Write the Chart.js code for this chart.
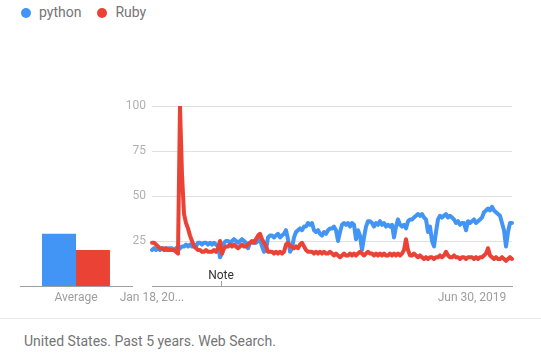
<!DOCTYPE html>
<html><head><meta charset="utf-8">
<script src="https://cdn.jsdelivr.net/npm/chart.js@4/dist/chart.umd.min.js"></script>
<style>
html,body{margin:0;padding:0;background:#fff;}
body{width:541px;height:360px;position:relative;overflow:hidden;font-family:Roboto,"Noto Sans",Arial,sans-serif;}
#legend{position:absolute;left:21px;top:4px;font-size:14px;color:#757575;white-space:nowrap;line-height:17px;}
#legend span.item{display:inline-block;margin-right:16px;}
#legend i{display:inline-block;width:10px;height:10px;border-radius:50%;vertical-align:-1px;margin-right:8px;}
#lineWrap{position:absolute;left:100px;top:80px;width:441px;height:240px;}
#barWrap{position:absolute;left:0px;top:80px;width:150px;height:240px;}
#sep{position:absolute;left:0;top:318px;width:541px;height:1px;background:#ececec;}
#footer{position:absolute;left:24px;top:333px;font-size:14px;color:#757575;line-height:16px;white-space:nowrap;}
</style>
</head><body>
<div id="legend"></div>
<div id="barWrap"><canvas id="bar"></canvas></div>
<div id="lineWrap"><canvas id="line"></canvas></div>
<div id="sep"></div>
<div id="footer">United States. Past 5 years. Web Search.</div>
<script>
const seriesNames = ['python', 'Ruby'];
const seriesColors = ['rgb(66,149,244)', 'rgb(234,67,53)'];

const python = [
20,21,20,21,20,21,21,20,21,21,
21,20,21,20,21,22,22,23,22,23,
22,23,22,24,24,23,24,24,23,24,
23,24,23,22,16,18,24,25,25,24,
25,26,25,24,25,26,25,24,21,24,
24,25,24,25,26,22,19,20,27,28,
28,27,28,29,27,28,29,31,26,19,
21,27,30,31,32,31,33,33,35,34,
35,31,30,31,29,28,30,29,31,32,
32,33,31,25,30,34,35,34,35,33,
35,34,26,31,28,20,27,33,36,36,
35,33,35,34,36,34,35,33,34,33,
34,27,33,37,34,33,34,32,36,37,
37,38,39,40,39,40,38,37,30,33,
25,22,30,37,39,38,39,40,38,39,
38,37,35,36,34,35,35,31,36,35,
36,37,35,36,37,38,41,42,43,42,
44,42,41,40,39,35,31,22,30,35,
35];

const ruby = [
24,24,23,22,21,21,20,21,20,20,
20,20,19,18,100,62,40,35,32,28,
25,22,21,20,20,19,19,20,19,19,
19,20,19,21,25,18,21,22,22,23,
22,23,22,21,22,23,22,22,23,24,
25,24,26,28,29,26,24,22,19,19,
19,18,19,18,19,18,19,23,24,22,
22,21,22,21,23,24,22,20,19,19,
19,18,19,18,19,18,19,18,18,19,
18,17,18,17,16,17,18,17,17,18,
17,18,17,18,19,18,17,18,19,18,
18,17,18,17,18,17,18,17,17,18,
17,18,17,18,17,18,20,26,20,17,
17,18,17,16,17,16,15,16,15,16,
16,15,16,16,17,16,17,19,17,16,
16,17,16,16,15,16,16,15,16,16,
16,15,16,15,16,16,17,18,21,17,
16,15,16,15,15,16,15,14,15,16,
15];

const categories = python.map((_, i) => i);
const xTickIndex = [0, 160];
const xTickText = ['Jan 18, 20...', 'Jun 30, 2019'];
const yTicks = [25, 50, 75, 100];
const noteIndex = 34.5;
const noteText = 'Note';

const avgCategories = ['Average'];
const pythonAvg = [29];
const rubyAvg = [20];

// legend
const lg = document.getElementById('legend');
seriesNames.forEach((n, k) => {
  const s = document.createElement('span');
  s.className = 'item';
  s.innerHTML = '<i style="background:' + seriesColors[k] + '"></i>' + n;
  lg.appendChild(s);
});

const fontFam = 'Roboto, "Noto Sans", Arial, sans-serif';
const axisColor = '#9e9e9e';

const notePlugin = {
  id: 'note',
  afterDatasetsDraw(chart) {
    const x = chart.scales.x.getPixelForValue(noteIndex);
    const b = chart.chartArea.bottom;
    const ctx = chart.ctx;
    ctx.save();
    ctx.strokeStyle = '#9e9e9e';
    ctx.lineWidth = 1;
    ctx.beginPath();
    ctx.moveTo(Math.round(x) + 0.5, b - 5);
    ctx.lineTo(Math.round(x) + 0.5, b);
    ctx.stroke();
    ctx.fillStyle = '#333';
    ctx.font = '12px ' + fontFam;
    ctx.textAlign = 'center';
    ctx.textBaseline = 'middle';
    ctx.fillText(noteText, x, b - 10);
    ctx.restore();
  }
};

new Chart(document.getElementById('line'), {
  type: 'line',
  data: {
    labels: categories,
    datasets: [
      {label: seriesNames[0], data: python, borderColor: seriesColors[0], backgroundColor: seriesColors[0], order: 2},
      {label: seriesNames[1], data: ruby, borderColor: seriesColors[1], backgroundColor: seriesColors[1], order: 1}
    ]
  },
  options: {
    responsive: true, maintainAspectRatio: false, animation: false,
    layout: {padding: {left: 12, right: 29, top: 26, bottom: 10}},
    elements: {point: {radius: 0}, line: {borderWidth: 4, tension: 0, borderJoinStyle: 'round', borderCapStyle: 'round'}},
    plugins: {legend: {display: false}, tooltip: {enabled: false}},
    scales: {
      x: {
        type: 'category',
        offset: false,
        grid: {display: false},
        border: {display: true, color: axisColor, width: 1},
        afterFit: s => { s.height = 24; },
        ticks: {
          autoSkip: false, maxRotation: 0, minRotation: 0, padding: -3,
          color: axisColor, font: {family: fontFam, size: 12},
          callback: (v, i) => { const k = xTickIndex.indexOf(i); return k >= 0 ? xTickText[k] : ''; }
        }
      },
      y: {
        min: 0, max: 100,
        afterBuildTicks: s => { s.ticks = [0].concat(yTicks).map(v => ({value: v})); },
        afterFit: s => { s.width = 40; },
        grid: {color: '#e0e0e0', drawTicks: false, lineWidth: 1},
        border: {display: false},
        ticks: {
          padding: 6, color: '#b0b0b0', font: {family: fontFam, size: 12},
          callback: v => v === 0 ? '' : v
        }
      }
    }
  },
  plugins: [notePlugin]
});

new Chart(document.getElementById('bar'), {
  type: 'bar',
  data: {
    labels: avgCategories,
    datasets: [
      {label: seriesNames[0], data: pythonAvg, backgroundColor: seriesColors[0]},
      {label: seriesNames[1], data: rubyAvg, backgroundColor: seriesColors[1]}
    ]
  },
  options: {
    responsive: true, maintainAspectRatio: false, animation: false,
    layout: {padding: {left: 20, right: 18, top: 26, bottom: 10}},
    plugins: {legend: {display: false}, tooltip: {enabled: false}},
    datasets: {bar: {categoryPercentage: 0.607, barPercentage: 1}},
    scales: {
      x: {
        grid: {display: false},
        border: {display: true, color: axisColor, width: 1},
        afterFit: s => { s.height = 24; },
        ticks: {padding: -3, color: axisColor, font: {family: fontFam, size: 12}, maxRotation: 0}
      },
      y: {min: 0, max: 100, display: false}
    }
  }
});
</script>
</body></html>
